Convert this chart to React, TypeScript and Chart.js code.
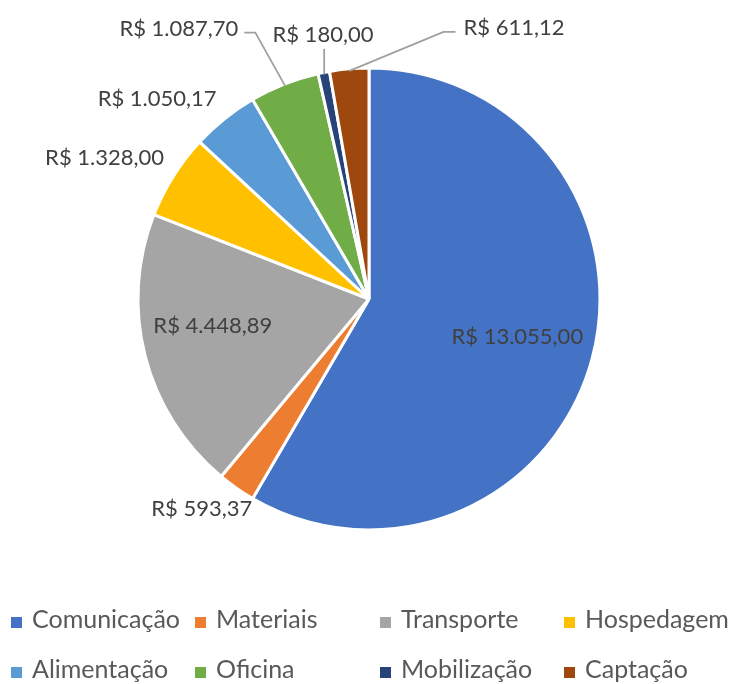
import { useEffect, useRef } from "react";
import { Chart, registerables } from "chart.js";

Chart.register(...registerables);

const categories = ["Comunicação", "Materiais", "Transporte", "Hospedagem", "Alimentação", "Oficina", "Mobilização", "Captação"];
const values = [13055.0, 593.37, 4448.89, 1328.0, 1050.17, 1087.7, 180.0, 611.12];
const colors = ["#4472C4", "#ED7D31", "#A5A5A5", "#FFC000", "#5B9BD5", "#70AD47", "#264478", "#9E480E"];

// label placement style (relative to each slice's own geometry)
const labelPlacement = [
  { inside: true, frac: 0.665, dx: 0, dy: -3, leader: false },
  { inside: false, frac: 0, dx: 0, dy: 3, leader: false },
  { inside: true, frac: 0.698, dx: 0, dy: -14, leader: false },
  { inside: false, frac: 0, dx: -10, dy: -8, leader: false },
  { inside: false, frac: 0, dx: -24, dy: -4, leader: false },
  { inside: false, frac: 0, dx: -80, dy: -37, leader: true },
  { inside: false, frac: 0, dx: 11, dy: -18, leader: true },
  { inside: false, frac: 0, dx: 170, dy: -21, leader: true },
];

const FONT = "Lato, 'Open Sans', sans-serif";

function fmtBRL(v: number) {
  const [i, d] = v.toFixed(2).split(".");
  const ii = i.replace(/\B(?=(\d{3})+(?!\d))/g, ".");
  return `R$ ${ii},${d}`;
}

const labelsPlugin = {
  id: "pieLabels",
  afterDatasetsDraw(chart: any) {
    const ctx = chart.ctx as CanvasRenderingContext2D;
    const meta = chart.getDatasetMeta(0);
    ctx.save();
    ctx.font = `22px ${FONT}`;
    const h = 22;
    const capHalf = 8;
    meta.data.forEach((arc: any, i: number) => {
      const p = labelPlacement[i];
      const text = fmtBRL(values[i]);
      const w = ctx.measureText(text).width;
      const mid = (arc.startAngle + arc.endAngle) / 2;
      const ux = Math.cos(mid);
      const uy = Math.sin(mid);
      const r = arc.outerRadius;
      let cx: number, cy: number;
      if (p.inside) {
        cx = arc.x + ux * r * p.frac + p.dx;
        cy = arc.y + uy * r * p.frac + p.dy;
      } else {
        const gap = 10;
        cx = arc.x + ux * (r + gap) + (w / 2) * ux + p.dx;
        cy = arc.y + uy * (r + gap) + (h / 2) * uy + p.dy;
      }
      if (p.leader) {
        const ex = arc.x + ux * (r - 2);
        const ey = arc.y + uy * (r - 2);
        ctx.strokeStyle = "#A0A0A0";
        ctx.lineWidth = 1.8;
        ctx.beginPath();
        if (Math.abs(ex - cx) < w / 2) {
          ctx.moveTo(ex, cy + h / 2 + 4);
          ctx.lineTo(ex, ey);
        } else if (cx + w / 2 < ex) {
          const sx = cx + w / 2 + 6;
          const sy = cy + 5;
          ctx.moveTo(sx, sy);
          ctx.lineTo(sx + 11, sy);
          ctx.lineTo(ex, ey);
        } else {
          const sx = cx - w / 2 - 8;
          const sy = cy + 5;
          ctx.moveTo(sx, sy);
          ctx.lineTo(sx - 12, sy);
          ctx.lineTo(ex, ey);
        }
        ctx.stroke();
      }
      ctx.fillStyle = "#404040";
      ctx.textAlign = "center";
      ctx.textBaseline = "alphabetic";
      ctx.fillText(text, cx, cy + capHalf);
    });
    ctx.restore();
  },
};

const legendPlugin = {
  id: "gridLegend",
  afterDraw(chart: any) {
    const ctx = chart.ctx as CanvasRenderingContext2D;
    const cols = 4;
    const colW = 184.3;
    const x0 = 11;
    const baselines = [628, 678];
    ctx.save();
    ctx.font = `25px ${FONT}`;
    ctx.textAlign = "left";
    ctx.textBaseline = "alphabetic";
    categories.forEach((c, i) => {
      const col = i % cols;
      const row = Math.floor(i / cols);
      const bx = Math.round(x0 + col * colW);
      const by = baselines[row];
      ctx.fillStyle = colors[i];
      ctx.fillRect(bx, by - 11, 11, 11);
      ctx.fillStyle = "#595959";
      ctx.fillText(c, bx + 21, by);
    });
    ctx.restore();
  },
};

export default function App() {
  const ref = useRef<HTMLCanvasElement>(null);
  useEffect(() => {
    if (!ref.current) return;
    const chart = new Chart(ref.current, {
      type: "pie",
      data: {
        labels: categories,
        datasets: [
          {
            data: values,
            backgroundColor: colors,
            borderColor: "#ffffff",
            borderWidth: 3,
          },
        ],
      },
      options: {
        responsive: false,
        animation: false,
        radius: 231,
        layout: { padding: { left: 139, right: 135, top: 69, bottom: 155 } },
        plugins: {
          legend: { display: false },
          tooltip: { enabled: false },
        },
      } as any,
      plugins: [labelsPlugin, legendPlugin],
    });
    return () => chart.destroy();
  }, []);
  return (
    <div style={{ position: "absolute", left: 0, top: 0, width: 734, height: 684, background: "#fff" }}>
      <canvas ref={ref} width={734} height={684} />
    </div>
  );
}
